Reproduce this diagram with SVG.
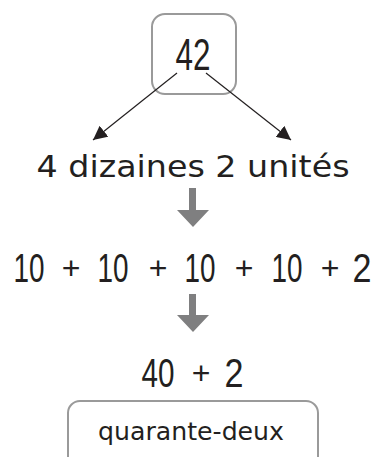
<svg xmlns="http://www.w3.org/2000/svg" width="376" height="457" viewBox="0 0 376 457">
<style>
.box{fill:#fff;stroke:#9a9a9a;stroke-width:2}
.num{font-family:"Liberation Sans","DejaVu Sans",sans-serif;fill:#231f20;text-anchor:middle;font-size:40px}
.pl{font-size:32px}
.cur{font-family:"DejaVu Sans","Liberation Sans",sans-serif;fill:#231f20;text-anchor:middle}
.link{stroke:#231f20;stroke-width:1.2;fill:none}
.big{fill:#7f7f80}
</style>
<defs>
<marker id="ah" viewBox="0 0 10 10" refX="10" refY="5" markerWidth="14" markerHeight="14" markerUnits="userSpaceOnUse" orient="auto">
<path d="M0,0 L10,5 L0,10 z" fill="#231f20"/>
</marker>
</defs>
<rect width="376" height="457" fill="#fff"/>
<g id="n42">
<rect class="box" x="152" y="14" width="84" height="80" rx="13"/>
<text class="num" x="193" y="70" style="font-size:44px" textLength="35" lengthAdjust="spacingAndGlyphs">42</text>
</g>
<g id="connectors">
<line class="link" x1="177" y1="73" x2="93" y2="140" marker-end="url(#ah)"/>
<line class="link" x1="206" y1="73" x2="291" y2="140" marker-end="url(#ah)"/>
<path class="big" d="M189,188 H196 V210 H209 L193,227 L177,210 H189 Z"/>
<path class="big" d="M189,294 H196 V315 H209 L193,332 L177,315 H189 Z"/>
</g>
<g id="decomp">
<text class="cur" x="193" y="177" font-size="30" textLength="313" lengthAdjust="spacingAndGlyphs">4 dizaines 2 unités</text>
</g>
<g id="sum">
<text class="num" y="282"><tspan x="29" textLength="31" lengthAdjust="spacingAndGlyphs">10</tspan><tspan class="pl" x="71" dy="-3">+</tspan><tspan x="113" dy="3" textLength="31" lengthAdjust="spacingAndGlyphs">10</tspan><tspan class="pl" x="158" dy="-3">+</tspan><tspan x="200" dy="3" textLength="31" lengthAdjust="spacingAndGlyphs">10</tspan><tspan class="pl" x="244" dy="-3">+</tspan><tspan x="287" dy="3" textLength="31" lengthAdjust="spacingAndGlyphs">10</tspan><tspan class="pl" x="330" dy="-3">+</tspan><tspan x="362" dy="3" textLength="19" lengthAdjust="spacingAndGlyphs">2</tspan></text>
</g>
<g id="result">
<text class="num" y="387"><tspan x="158" textLength="33" lengthAdjust="spacingAndGlyphs">40</tspan><tspan class="pl" x="201" dy="-3">+</tspan><tspan x="234" dy="3" textLength="19" lengthAdjust="spacingAndGlyphs">2</tspan></text>
</g>
<g id="words">
<rect class="box" x="68" y="401" width="250" height="70" rx="12"/>
<text class="cur" x="191" y="440" font-size="24" textLength="186" lengthAdjust="spacingAndGlyphs">quarante-deux</text>
</g>
</svg>
